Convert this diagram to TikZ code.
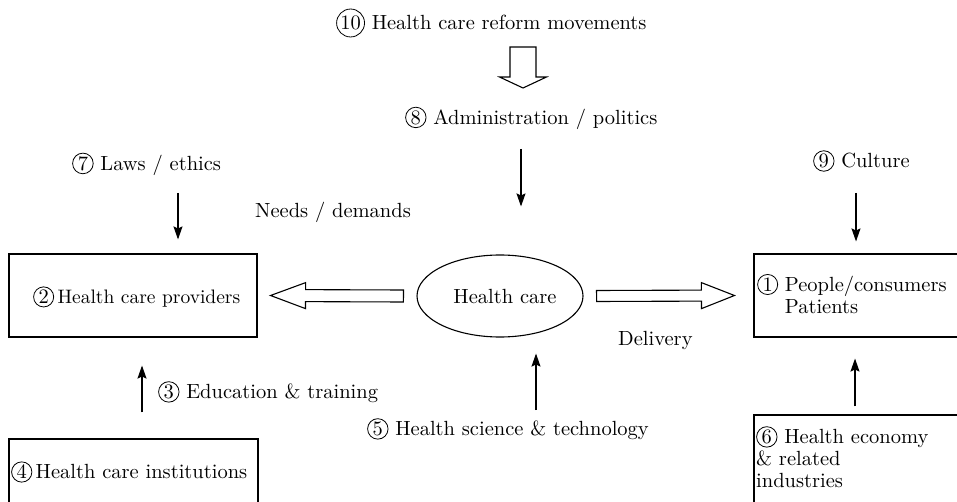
\documentclass[tikz,border=0pt]{standalone}
\usepackage{fontspec}
\setmainfont{lmroman10-regular.otf}
\usetikzlibrary{arrows.meta,calc,shapes.geometric}

% circled number used in front of the labels
\newcommand\cnum[1]{\tikz[baseline=(cnumnode.base)]\node[draw,circle,inner sep=1.1pt,line width=0.8pt](cnumnode){#1};}

% hollow block arrow: start, tip, shaft half width, head half width, head length
\newcommand\fatarrow[5]{%
  \coordinate (#1-h) at ($(#2)!#5!(#1)$);
  \draw[fat] ($(#1)!#3!90:(#2)$) -- ($(#1-h)!#3!-90:(#1)$) -- ($(#1-h)!#4!-90:(#1)$)
    -- (#2) -- ($(#1-h)!#4!90:(#1)$) -- ($(#1-h)!#3!90:(#1)$) -- ($(#1)!#3!-90:(#2)$) -- cycle;}

\begin{document}
\begin{tikzpicture}[x=1pt,y=-1pt,
  every node/.style={font=\fontsize{20.5}{22}\selectfont, inner sep=0pt},
  lbl/.style={anchor=west},
  frame/.style={draw, rectangle, line width=1.1pt, inner sep=0pt},
  thinarrow/.style={line width=1.1pt, -{Stealth[length=13pt,width=9pt,inset=2pt]}},
  fat/.style={line width=1.1pt, line join=miter}]

\useasboundingbox (0,0) rectangle (957,502);
\clip (0,0) rectangle (957,502);

% boxes and the central ellipse
\node[frame, minimum width=248pt, minimum height=83pt]  (box2) at (133,295.5) {};
\node[frame, minimum width=249pt, minimum height=100pt] (box4) at (133.5,489) {};
\node[frame, minimum width=260pt, minimum height=83pt]  (box1) at (884,295.5) {};
\node[frame, minimum width=260pt, minimum height=125pt] (box6) at (884,477.5) {};
\node[draw, ellipse, line width=1.1pt, minimum width=166pt, minimum height=82pt] (hc) at (500,296) {\hspace{10pt}Health care};

% box texts
\node[lbl] (t2) at (33,297) {\cnum{2}\,{\fontsize{19.5}{20}\selectfont Health care providers}};
\node[lbl] (t4) at (11,472) {\cnum{4}\,Health care institutions};
\node[lbl] (t1) at (757,297) {\begin{tabular}{@{}l@{\ }l@{}}\cnum{1}&People/consumers\\&Patients\end{tabular}};
\node[lbl, align=left] (t6) at (756,457) {\cnum{6} Health economy\\\&{} related\\industries};

% free labels
\node[lbl] (t10) at (336,23) {\cnum{10} Health care reform movements};
\node[lbl] (t8) at (405,118) {\cnum{8} Administration / politics};
\node[lbl] (t7) at (72,164) {\cnum{7} Laws / ethics};
\node[lbl] (t9) at (813,161) {\cnum{9} Culture};
\node[lbl] (needs) at (255,212) {Needs / demands};
\node[lbl] (t3) at (158,392) {\cnum{3} Education \& training};
\node[lbl] (t5) at (367,429) {\cnum{5} Health science \& technology};
\node[lbl] (deliv) at (618,340) {Delivery};

% hollow arrows
\coordinate (ta) at (523,47);
\coordinate (tb) at (523,88);
\fatarrow{ta}{tb}{13pt}{23.5pt}{11pt}
\coordinate (la) at ([xshift=-13pt]hc.west);
\coordinate (lb) at ([xshift=13pt]box2.east);
\fatarrow{la}{lb}{6pt}{13pt}{35pt}
\coordinate (ra) at ([xshift=13pt]hc.east);
\coordinate (rb) at ([xshift=-19pt]box1.west);
\fatarrow{ra}{rb}{5.5pt}{13pt}{33pt}

% thin arrows
\coordinate (a7) at (178,193);
\draw[thinarrow, shorten >=14pt] (a7) -- (a7 |- box2.north);
\coordinate (a8) at (521,149);
\draw[thinarrow, shorten >=48pt] (a8) -- (a8 |- hc.north);
\coordinate (a9) at (856,193);
\draw[thinarrow, shorten >=12pt] (a9) -- (a9 |- box1.north);
\coordinate (a3) at (142,0);
\draw[thinarrow, shorten <=26pt, shorten >=28pt] (a3 |- box4.north) -- (a3 |- box2.south);
\coordinate (a5) at (536,410);
\draw[thinarrow, shorten >=16pt] (a5) -- (a5 |- hc.south);
\coordinate (a6) at (855,0);
\draw[thinarrow, shorten <=8pt, shorten >=21pt] (a6 |- box6.north) -- (a6 |- box1.south);

\end{tikzpicture}
\end{document}
